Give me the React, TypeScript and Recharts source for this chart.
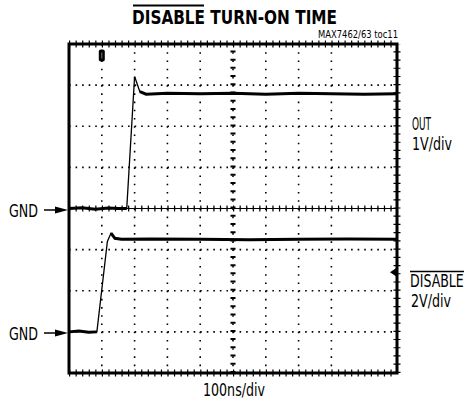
import React from "react";
import {
  LineChart,
  Line,
  XAxis,
  YAxis,
  CartesianGrid,
  ReferenceLine,
  ReferenceArea,
  ReferenceDot,
} from "recharts";

const W = 469;
const H = 404;
const FONT =
  '"Liberation Sans Narrow", "DejaVu Sans Condensed", "Liberation Sans", sans-serif';

// scope screen: 10 x 100ns divisions, 8 vertical divisions
const X_TICKS = [0, 100, 200, 300, 400, 500, 600, 700, 800, 900, 1000];
const Y_TICKS = [0, 1, 2, 3, 4, 5, 6, 7, 8];

// OUT channel, 1V/div, ground on division 4
const OUT_GND = 4;
const OUT_VDIV = 1;
const OUT_TIME = [0, 40, 80, 120, 150, 176, 200, 216, 235, 300, 400, 500, 600, 700, 800, 900, 1000];
const OUT_VOLTS = [0, 0.02, -0.02, 0.01, 0, 0, 3.21, 2.84, 2.78, 2.8, 2.79, 2.8, 2.78, 2.8, 2.79, 2.78, 2.79];
// points on the fast edge (drawn thin, the settled parts are thick with noise)
const OUT_EDGE = [200];

// DISABLE channel, 2V/div, ground on division 1
const DIS_GND = 1;
const DIS_VDIV = 2;
const DIS_TIME = [0, 30, 60, 85, 117, 128, 140, 160, 250, 400, 550, 700, 850, 1000];
const DIS_VOLTS = [0, 0.04, -0.02, 0, 4.4, 4.8, 4.55, 4.5, 4.52, 4.5, 4.48, 4.5, 4.52, 4.5];
const DIS_EDGE = [117];

const outData = OUT_TIME.map((t, i) => {
  const y = OUT_GND + OUT_VOLTS[i] / OUT_VDIV;
  return { t, y, flat: OUT_EDGE.includes(t) ? null : y };
});
const disData = DIS_TIME.map((t, i) => {
  const y = DIS_GND + DIS_VOLTS[i] / DIS_VDIV;
  return { t, y, flat: DIS_EDGE.includes(t) ? null : y };
});

const TrigMarker = (props: any) => (
  <g>
    <rect x={props.cx - 3} y={props.cy - 6} width={6} height={12} rx={2} fill="#000" />
    <line x1={props.cx} y1={props.cy - 3} x2={props.cx} y2={props.cy + 3} stroke="#777" strokeWidth={1} />
  </g>
);

const LevelMarker = (props: any) => (
  <polygon
    points={`${props.cx - 1},${props.cy - 4} ${props.cx - 1},${props.cy + 4} ${props.cx - 7},${props.cy}`}
    fill="#000"
  />
);

export default function App() {
  return (
    <div style={{ position: "relative", width: W, height: H, background: "#fff" }}>
      <style>{`body{margin:0}`}</style>
      <LineChart
        width={W}
        height={H}
        margin={{ top: 44, right: 72, bottom: 31, left: 69 }}
      >
        <XAxis type="number" dataKey="t" domain={[0, 1000]} ticks={X_TICKS} hide />
        <YAxis type="number" domain={[0, 8]} ticks={Y_TICKS} hide />
        <CartesianGrid
          horizontal={false}
          stroke="#000"
          strokeWidth={1.6}
          strokeDasharray="1.6 6.62"
        />
        <CartesianGrid
          vertical={false}
          stroke="#000"
          strokeWidth={1.6}
          strokeDasharray="1.6 4.96"
        />
        {/* centre cross with minor ticks */}
        <ReferenceLine y={4} stroke="#000" strokeWidth={1} />
        <ReferenceLine y={4} stroke="#000" strokeWidth={6} strokeDasharray="1.2 5.36" />
        <ReferenceLine x={500} stroke="#000" strokeWidth={5} strokeDasharray="2 6.22" />
        {/* edge ticks */}
        <ReferenceLine y={8} stroke="#000" strokeWidth={7} strokeDasharray="1.2 5.36" />
        <ReferenceLine y={0} stroke="#000" strokeWidth={7} strokeDasharray="1.2 5.36" />
        <ReferenceLine x={1000} stroke="#000" strokeWidth={7} strokeDasharray="1.2 7.02" />
        <ReferenceArea x1={0} x2={1000} y1={0} y2={8} fill="none" stroke="#000" strokeWidth={3} />
        <Line
          data={outData}
          dataKey="y"
          type="linear"
          stroke="#000"
          strokeWidth={1.3}
          dot={false}
          isAnimationActive={false}
        />
        <Line
          data={outData}
          dataKey="flat"
          type="linear"
          stroke="#000"
          strokeWidth={3}
          dot={false}
          isAnimationActive={false}
        />
        <Line
          data={disData}
          dataKey="y"
          type="linear"
          stroke="#000"
          strokeWidth={1.3}
          dot={false}
          isAnimationActive={false}
        />
        <Line
          data={disData}
          dataKey="flat"
          type="linear"
          stroke="#000"
          strokeWidth={3}
          dot={false}
          isAnimationActive={false}
        />
        <ReferenceDot x={100} y={7.72} r={0} shape={TrigMarker} ifOverflow="visible" />
        <ReferenceDot x={1000} y={2.45} r={0} shape={LevelMarker} ifOverflow="visible" />
      </LineChart>

      <svg
        width={W}
        height={H}
        style={{ position: "absolute", left: 0, top: 0, pointerEvents: "none" }}
        fontFamily={FONT}
      >
        <text x={132} y={24} fontSize={20} fontWeight="bold" textLength={205} lengthAdjust="spacingAndGlyphs">
          DISABLE TURN-ON TIME
        </text>
        <line x1={133} y1={5.5} x2={204} y2={5.5} stroke="#000" strokeWidth={1.8} />
        <text x={398} y={38} fontSize={10.5} textAnchor="end" textLength={80} lengthAdjust="spacingAndGlyphs">
          MAX7462/63 toc11
        </text>

        <text x={9} y={216.5} fontSize={17} textLength={29} lengthAdjust="spacingAndGlyphs">GND</text>
        <line x1={44} y1={210} x2={57} y2={210} stroke="#000" strokeWidth={1.5} />
        <polygon points="55,206.5 68,210 55,213.5" fill="#000" />

        <text x={9} y={339.5} fontSize={17} textLength={29} lengthAdjust="spacingAndGlyphs">GND</text>
        <line x1={44} y1={333} x2={57} y2={333} stroke="#000" strokeWidth={1.5} />
        <polygon points="55,329.5 68,333 55,336.5" fill="#000" />

        <text x={412} y={130} fontSize={17} textLength={19} lengthAdjust="spacingAndGlyphs">OUT</text>
        <text x={412} y={150} fontSize={17} textLength={40} lengthAdjust="spacingAndGlyphs">1V/div</text>

        <line x1={410} y1={271.5} x2={464} y2={271.5} stroke="#000" strokeWidth={1.3} />
        <text
          transform="translate(410 287) scale(0.78 1)"
          fontSize={17}
          textLength={69}
          lengthAdjust="spacingAndGlyphs"
        >
          DISABLE
        </text>
        <text x={411} y={307} fontSize={17} textLength={40} lengthAdjust="spacingAndGlyphs">2V/div</text>

        <text x={203} y={396} fontSize={17} textLength={62} lengthAdjust="spacingAndGlyphs">100ns/div</text>
      </svg>
    </div>
  );
}
